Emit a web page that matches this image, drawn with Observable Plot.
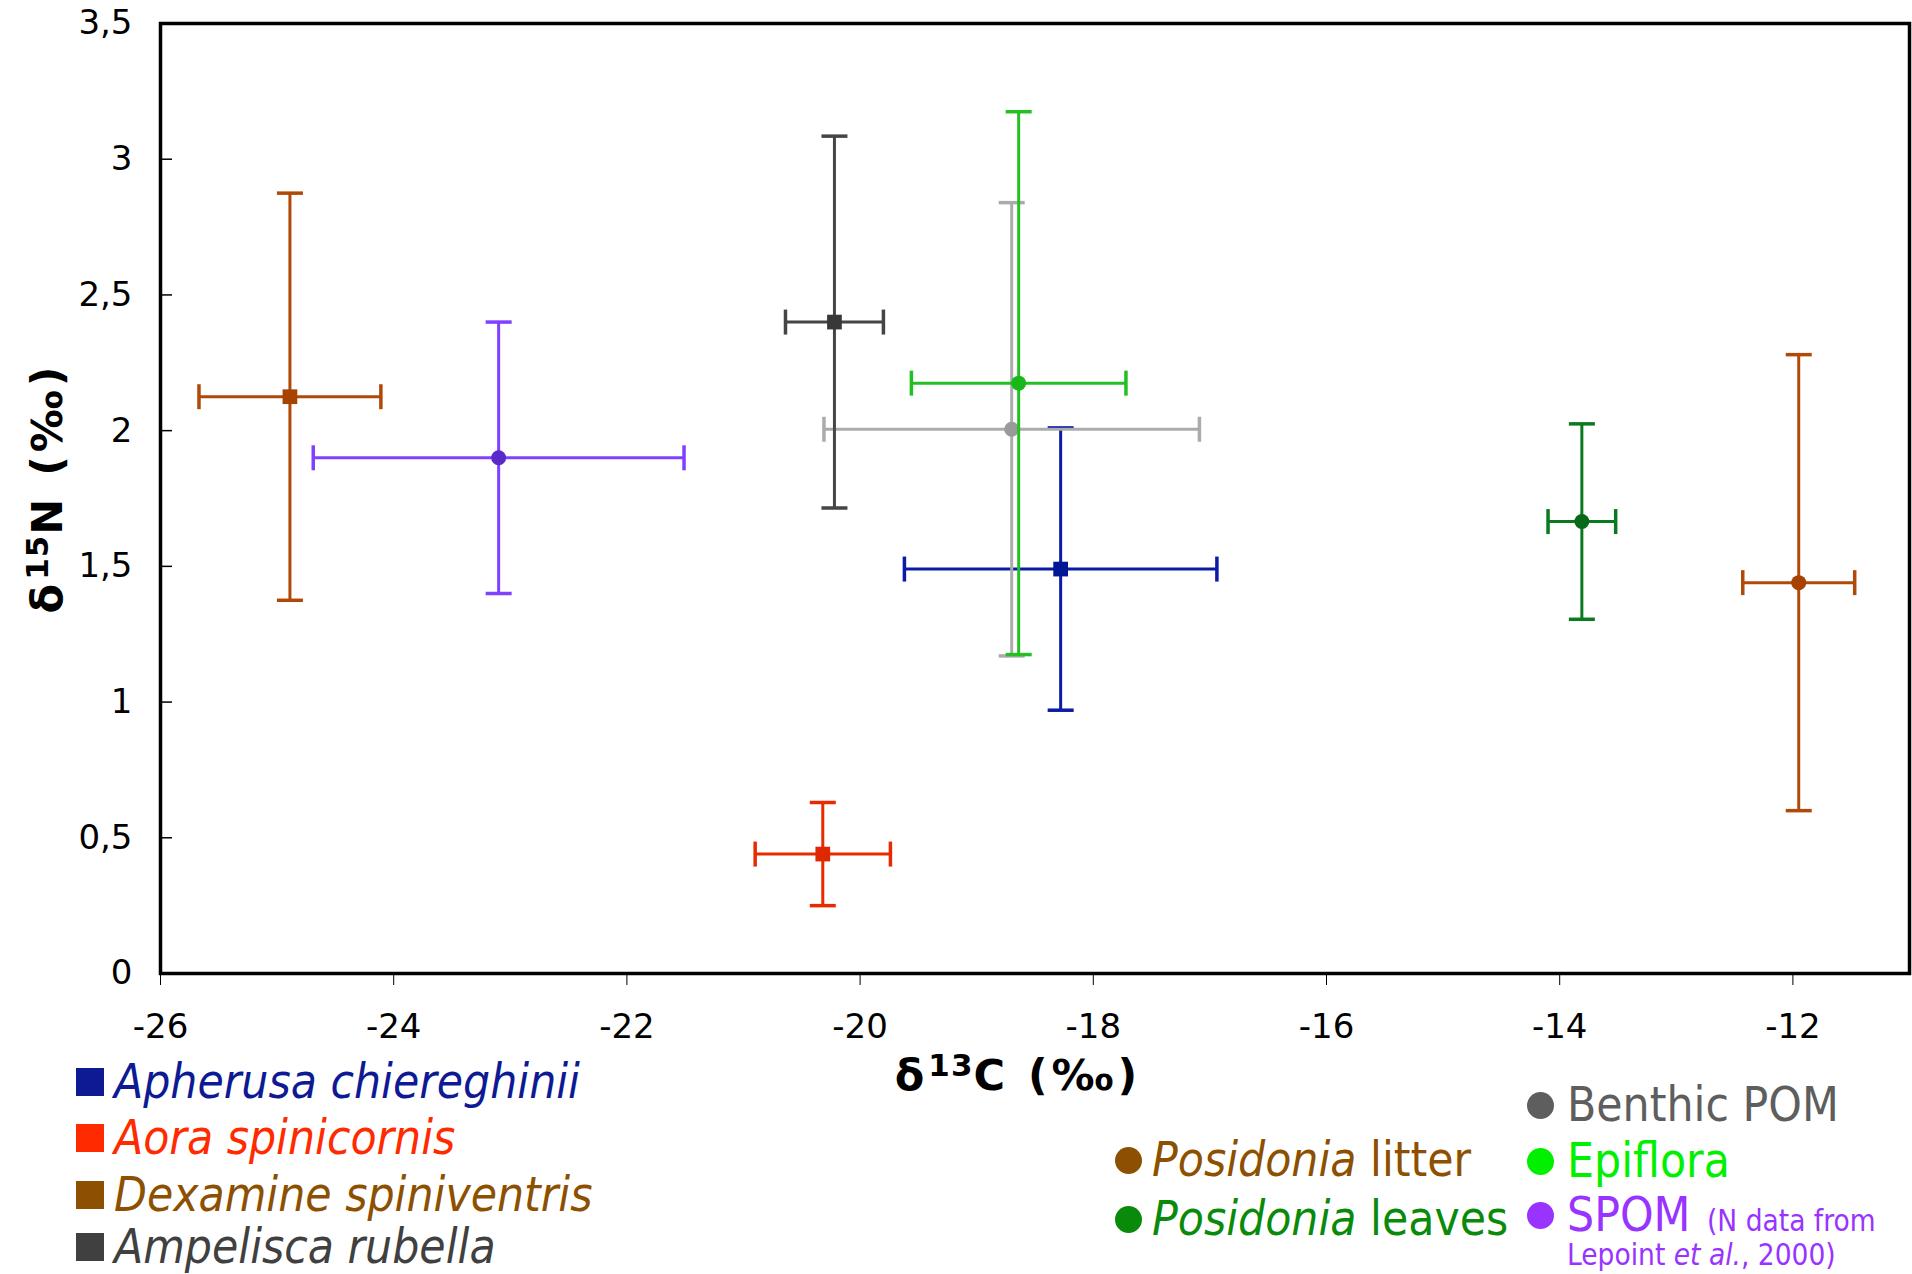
<!DOCTYPE html>
<html>
<head>
<meta charset="utf-8">
<script src="https://cdn.jsdelivr.net/npm/d3@7"></script>
<script src="https://cdn.jsdelivr.net/npm/@observablehq/plot@0.6"></script>
<style>
  html, body { margin: 0; padding: 0; background: #fff; }
  #wrap { position: relative; width: 1912px; height: 1274px; overflow: hidden; background: #fff; }
  #wrap svg { position: absolute; left: 0; top: 0; }
  .title { position: absolute; font-family: "DejaVu Sans", Verdana, sans-serif; font-weight: bold; font-size: 43px; letter-spacing: 4px; color: #000; white-space: nowrap; line-height: 1; }
  .title sup { font-size: 0.72em; vertical-align: 0; position: relative; top: -0.45em; letter-spacing: 1px; }
  .lg { position: absolute; white-space: nowrap; font-family: "DejaVu Sans Condensed", "DejaVu Sans", sans-serif; font-stretch: condensed; font-size: 47.5px; line-height: 0.85; transform: translateY(-50%); }
  .note { font-size: 29.5px; line-height: 0.8; }
  .sw { position: absolute; }
</style>
</head>
<body>
<div id="wrap"></div>
<script>
// ---------- data (drawing order) ----------
const groups   = ["Apherusa chiereghinii", "Benthic POM", "Epiflora", "Ampelisca rubella", "Aora spinicornis", "Dexamine spiniventris", "SPOM", "Posidonia leaves", "Posidonia litter"];
const shapes   = ["square", "circle", "circle", "square", "square", "square", "circle", "circle", "circle"];
const d13C     = [-18.28, -18.70, -18.64, -20.22, -20.32, -24.89, -23.10, -13.81, -11.95];
const d13C_sd  = [1.34, 1.61, 0.92, 0.42, 0.58, 0.78, 1.59, 0.29, 0.48];
const d15N     = [1.49, 2.005, 2.175, 2.40, 0.44, 2.125, 1.90, 1.665, 1.44];
const d15N_sd  = [0.52, 0.835, 1.00, 0.685, 0.19, 0.75, 0.50, 0.36, 0.84];
const barColors    = ["#0b1ba6", "#ababab", "#22c022", "#454545", "#e82a00", "#b04808", "#8040ff", "#0a7a20", "#b04a0a"];
const markerColors = ["#001894", "#9a9a9a", "#18b818", "#383838", "#e02800", "#a84200", "#5a2ac8", "#066a18", "#a84200"];

const xTicks = [-26, -24, -22, -20, -18, -16, -14, -12];
const yTicks = [0, 0.5, 1, 1.5, 2, 2.5, 3, 3.5];

// legend entries
const legendLeft  = ["Apherusa chiereghinii", "Aora spinicornis", "Dexamine spiniventris", "Ampelisca rubella"];
const legendLeftColors = ["#0d1a94", "#ff2a00", "#8c5000", "#404040"];
const legendRight = ["Benthic POM", "Posidonia litter", "Epiflora", "Posidonia leaves", "SPOM"];
const legendRightColors = ["#5e5e5e", "#8c5000", "#00f000", "#0a8a0a", "#9933ff"];
const spomNote = ["(N data from", "Lepoint et al., 2000)"];

// ---------- build ----------
const data = groups.map((g, i) => ({
  group: g, shape: shapes[i],
  x: d13C[i], xsd: d13C_sd[i], y: d15N[i], ysd: d15N_sd[i],
  bar: barColors[i], mk: markerColors[i]
}));

const hcap = { draw(ctx, size) { const r = Math.sqrt(size / Math.PI); ctx.moveTo(-r, 0); ctx.lineTo(r, 0); } };
const vcap = { draw(ctx, size) { const r = Math.sqrt(size / Math.PI); ctx.moveTo(0, -r); ctx.lineTo(0, r); } };

const marks = [
  Plot.axisX({ticks: xTicks, tickSize: 12, tickPadding: 28, tickFormat: d => String(d), label: null, fontSize: 34, color: "#000"}),
  Plot.axisY({ticks: yTicks, tickSize: 0, tickPadding: 28, tickFormat: d => String(d).replace(".", ","), label: null, fontSize: 34}),
  Plot.axisY({ticks: yTicks, tickSize: 12, dx: 12, tickFormat: () => "", label: null, strokeWidth: 1.5})
];
for (const d of data) {
  const one = [d];
  marks.push(
    Plot.link(one, {x1: e => e.x - e.xsd, x2: e => e.x + e.xsd, y1: "y", y2: "y", stroke: "bar", strokeWidth: 3}),
    Plot.link(one, {x1: "x", x2: "x", y1: e => e.y - e.ysd, y2: e => e.y + e.ysd, stroke: "bar", strokeWidth: 3}),
    Plot.dot(one, {x: e => e.x - e.xsd, y: "y", symbol: vcap, r: 12.5, fill: "none", stroke: "bar", strokeWidth: 3.5}),
    Plot.dot(one, {x: e => e.x + e.xsd, y: "y", symbol: vcap, r: 12.5, fill: "none", stroke: "bar", strokeWidth: 3.5}),
    Plot.dot(one, {x: "x", y: e => e.y - e.ysd, symbol: hcap, r: 13, fill: "none", stroke: "bar", strokeWidth: 3.5}),
    Plot.dot(one, {x: "x", y: e => e.y + e.ysd, symbol: hcap, r: 13, fill: "none", stroke: "bar", strokeWidth: 3.5}),
    Plot.dot(one, {x: "x", y: "y", symbol: "shape", r: d.shape === "square" ? 8.3 : 7.5, fill: "mk", stroke: "none"})
  );
}
marks.push(Plot.frame({stroke: "#000", strokeWidth: 3.5}));

const chart = Plot.plot({
  width: 1912, height: 1274,
  marginLeft: 160, marginRight: 3, marginTop: 23, marginBottom: 301,
  x: {domain: [-26, -11]},
  y: {domain: [0, 3.5]},
  color: {type: "identity"},
  symbol: {type: "identity"},
  style: {fontFamily: "'DejaVu Sans', Verdana, sans-serif", fontSize: "34px", color: "#000", background: "transparent", overflow: "visible"},
  marks
});
const wrap = document.getElementById("wrap");
wrap.appendChild(chart);

// ---------- titles ----------
function addDiv(cls, html, style) {
  const el = document.createElement("div");
  el.className = cls; el.innerHTML = html;
  Object.assign(el.style, style);
  wrap.appendChild(el);
  return el;
}
addDiv("title", "δ<sup>13</sup>C (‰)", {left: "1018px", top: "1075px", transform: "translate(-50%,-50%)"});
addDiv("title", "δ<sup>15</sup>N (‰)", {left: "47px", top: "488px", transform: "translate(-50%,-50%) rotate(-90deg)"});

// ---------- legend ----------
const leftRowsY = [1082, 1138, 1195, 1247];
legendLeft.forEach((name, i) => {
  addDiv("sw", "", {left: "76px", top: (leftRowsY[i] - 14) + "px", width: "28px", height: "28px", background: legendLeftColors[i]});
  addDiv("lg", `<i>${name}</i>`, {left: "114px", top: leftRowsY[i] + "px", color: legendLeftColors[i]});
});
const rightPos = [[1540, 1567, 1105], [1128, 1152, 1160], [1540, 1567, 1161], [1128, 1152, 1219], [1540, 1567, 1215]];
legendRight.forEach((name, i) => {
  const [cx, tx, cy] = rightPos[i];
  addDiv("sw", "", {left: (cx - 13.5) + "px", top: (cy - 13.5) + "px", width: "27px", height: "27px", borderRadius: "50%", background: legendRightColors[i]});
  const html = name.startsWith("Posidonia") ? `<i>Posidonia</i>${name.slice(9)}` : name;
  addDiv("lg", html, {left: tx + "px", top: cy + "px", color: legendRightColors[i]});
});
addDiv("lg note", spomNote[0], {left: "1707px", top: "1222px", color: "#9933ff"});
addDiv("lg note", spomNote[1].replace("et al.", "<i>et al.</i>"), {left: "1567px", top: "1256px", color: "#9933ff"});
</script>
</body>
</html>
